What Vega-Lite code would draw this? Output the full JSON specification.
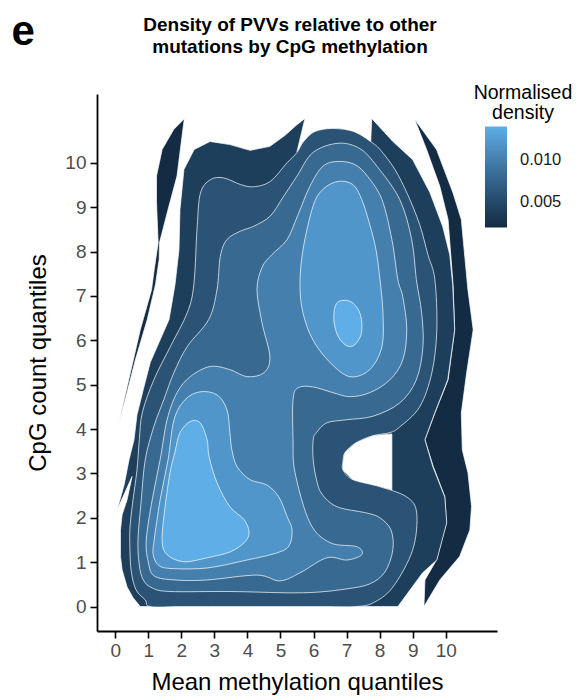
{
  "$schema": "https://vega.github.io/schema/vega-lite/v6.json",
  "width": 400,
  "height": 537,
  "autosize": {"type": "none"},
  "padding": {"left": 97, "top": 94, "right": 84, "bottom": 66},
  "title": {
    "text": ["Density of PVVs relative to other", "mutations by CpG methylation"],
    "fontSize": 19, "fontWeight": "bold", "font": "Liberation Sans", "color": "black",
    "anchor": "middle", "dx": -7, "lineHeight": 22, "offset": -46
  },
  "config": {
    "view": {"stroke": null},
    "axis": {
      "grid": false, "domainColor": "black", "domainWidth": 1.8, "tickColor": "black",
      "tickWidth": 1.6, "tickSize": 7, "labelColor": "#4d4d4d", "labelFontSize": 19,
      "labelFont": "Liberation Sans", "titleFont": "Liberation Sans", "titleFontSize": 24,
      "titleFontWeight": "normal", "titleColor": "black", "labelOverlap": false
    }
  },
  "layer": [
    {
      "data": {"values": [
        {"p":"S1","x":2.09,"y":10.99},{"p":"S1","x":1.77,"y":10.75},{"p":"S1","x":1.42,"y":10.30},{"p":"S1","x":1.25,"y":9.70},{"p":"S1","x":1.25,"y":9.11},{"p":"S1","x":1.30,"y":8.20},{"p":"S1","x":1.18,"y":7.59},{"p":"S1","x":1.10,"y":7.14},{"p":"S1","x":0.76,"y":6.24},{"p":"S1","x":0.46,"y":5.27},{"p":"S1","x":0.11,"y":4.14},{"p":"S1","x":0.30,"y":4.66},{"p":"S1","x":0.61,"y":5.56},{"p":"S1","x":0.97,"y":6.47},{"p":"S1","x":1.22,"y":7.26},{"p":"S1","x":1.33,"y":7.82},{"p":"S1","x":1.34,"y":8.20},{"p":"S1","x":1.60,"y":8.95},{"p":"S1","x":1.87,"y":9.70},{"p":"S1","x":1.99,"y":10.41},
        {"p":"S2","x":9.06,"y":10.98},{"p":"S2","x":9.42,"y":10.30},{"p":"S2","x":9.82,"y":9.47},{"p":"S2","x":10.07,"y":8.72},{"p":"S2","x":10.22,"y":7.26},{"p":"S2","x":10.27,"y":6.24},{"p":"S2","x":10.07,"y":5.11},{"p":"S2","x":9.67,"y":4.36},{"p":"S2","x":9.37,"y":3.76},{"p":"S2","x":9.62,"y":3.16},{"p":"S2","x":9.97,"y":2.48},{"p":"S2","x":10.02,"y":1.89},{"p":"S2","x":9.72,"y":1.05},{"p":"S2","x":9.37,"y":0.60},{"p":"S2","x":9.34,"y":0},{"p":"S2","x":9.82,"y":0.60},{"p":"S2","x":10.42,"y":1.13},{"p":"S2","x":10.73,"y":1.73},{"p":"S2","x":10.78,"y":2.26},{"p":"S2","x":10.67,"y":3.02},{"p":"S2","x":10.50,"y":3.53},{"p":"S2","x":10.47,"y":4.36},{"p":"S2","x":10.63,"y":5.26},{"p":"S2","x":10.83,"y":6.24},{"p":"S2","x":10.67,"y":7.14},{"p":"S2","x":10.47,"y":8.72},{"p":"S2","x":10.22,"y":9.32},{"p":"S2","x":9.72,"y":10.30},
        {"p":"A","x":0.76,"y":0},{"p":"A","x":6.80,"y":0},{"p":"A","x":7.19,"y":2.86},{"p":"A","x":6.89,"y":3.08},{"p":"A","x":6.89,"y":3.26},{"p":"A","x":6.95,"y":3.47},{"p":"A","x":7.28,"y":3.69},{"p":"A","x":7.79,"y":3.85},{"p":"A","x":8.37,"y":3.89},{"p":"A","x":8.37,"y":2.63},{"p":"A","x":8.01,"y":2.70},{"p":"A","x":7.58,"y":2.78},{"p":"A","x":7.19,"y":2.86},{"p":"A","x":6.80,"y":0},{"p":"A","x":8.55,"y":0},{"p":"A","x":9.30,"y":0.76},{"p":"A","x":9.73,"y":1.05},{"p":"A","x":10.03,"y":1.89},{"p":"A","x":9.97,"y":2.47},{"p":"A","x":9.61,"y":3.15},{"p":"A","x":9.37,"y":3.76},{"p":"A","x":9.67,"y":4.37},{"p":"A","x":10.06,"y":5.11},{"p":"A","x":10.27,"y":6.24},{"p":"A","x":10.21,"y":7.26},{"p":"A","x":10.12,"y":7.93},{"p":"A","x":9.91,"y":8.56},{"p":"A","x":9.52,"y":9.33},{"p":"A","x":9.00,"y":10.07},{"p":"A","x":8.40,"y":10.48},{"p":"A","x":7.76,"y":11.00},{"p":"A","x":7.73,"y":10.46},{"p":"A","x":7.40,"y":10.64},{"p":"A","x":7.10,"y":10.73},{"p":"A","x":6.71,"y":10.77},{"p":"A","x":6.34,"y":10.76},{"p":"A","x":5.98,"y":10.68},{"p":"A","x":5.68,"y":10.46},{"p":"A","x":5.50,"y":10.25},{"p":"A","x":5.74,"y":11.00},{"p":"A","x":5.47,"y":10.84},{"p":"A","x":5.14,"y":10.62},{"p":"A","x":4.68,"y":10.37},{"p":"A","x":4.08,"y":10.28},{"p":"A","x":3.47,"y":10.41},{"p":"A","x":2.87,"y":10.48},{"p":"A","x":2.39,"y":10.30},{"p":"A","x":2.08,"y":9.85},{"p":"A","x":1.96,"y":8.95},{"p":"A","x":1.93,"y":8.04},{"p":"A","x":1.81,"y":7.26},{"p":"A","x":1.63,"y":6.47},{"p":"A","x":1.36,"y":6.01},{"p":"A","x":1.06,"y":5.50},{"p":"A","x":0.85,"y":4.89},{"p":"A","x":0.66,"y":4.32},{"p":"A","x":0.57,"y":3.76},{"p":"A","x":0.42,"y":3.31},{"p":"A","x":0.27,"y":2.74},{"p":"A","x":0.06,"y":2.18},{"p":"A","x":0.51,"y":2.93},{"p":"A","x":0.36,"y":2.41},{"p":"A","x":0.21,"y":2.07},{"p":"A","x":0.16,"y":1.73},{"p":"A","x":0.16,"y":1.13},{"p":"A","x":0.21,"y":0.83},{"p":"A","x":0.36,"y":0.44},{"p":"A","x":0.54,"y":0.20},
        {"p":"B","x":1.06,"y":0},{"p":"B","x":0.91,"y":0.15},{"p":"B","x":0.63,"y":0.38},{"p":"B","x":0.48,"y":0.83},{"p":"B","x":0.44,"y":1.50},{"p":"B","x":0.46,"y":1.89},{"p":"B","x":0.54,"y":2.41},{"p":"B","x":0.66,"y":3.08},{"p":"B","x":0.73,"y":3.76},{"p":"B","x":0.82,"y":4.37},{"p":"B","x":1.17,"y":5.11},{"p":"B","x":1.67,"y":5.86},{"p":"B","x":2.18,"y":6.62},{"p":"B","x":2.38,"y":7.26},{"p":"B","x":2.48,"y":8.56},{"p":"B","x":2.58,"y":9.32},{"p":"B","x":2.88,"y":9.62},{"p":"B","x":3.28,"y":9.66},{"p":"B","x":3.79,"y":9.51},{"p":"B","x":4.19,"y":9.46},{"p":"B","x":4.69,"y":9.58},{"p":"B","x":5.20,"y":10.00},{"p":"B","x":5.50,"y":10.23},{"p":"B","x":5.68,"y":10.46},{"p":"B","x":5.98,"y":10.68},{"p":"B","x":6.34,"y":10.76},{"p":"B","x":6.71,"y":10.77},{"p":"B","x":7.10,"y":10.73},{"p":"B","x":7.40,"y":10.64},{"p":"B","x":7.76,"y":10.46},{"p":"B","x":8.01,"y":10.30},{"p":"B","x":8.46,"y":9.85},{"p":"B","x":8.85,"y":9.28},{"p":"B","x":9.21,"y":8.61},{"p":"B","x":9.46,"y":7.93},{"p":"B","x":9.67,"y":7.37},{"p":"B","x":9.73,"y":6.24},{"p":"B","x":9.58,"y":5.27},{"p":"B","x":9.21,"y":4.50},{"p":"B","x":8.61,"y":4.05},{"p":"B","x":8.31,"y":3.92},{"p":"B","x":7.79,"y":3.85},{"p":"B","x":7.28,"y":3.69},{"p":"B","x":6.95,"y":3.47},{"p":"B","x":6.89,"y":3.26},{"p":"B","x":6.89,"y":3.08},{"p":"B","x":7.19,"y":2.86},{"p":"B","x":8.01,"y":2.70},{"p":"B","x":8.82,"y":2.47},{"p":"B","x":9.12,"y":2.11},{"p":"B","x":9.00,"y":1.28},{"p":"B","x":8.40,"y":0.44},{"p":"B","x":7.79,"y":0.08},{"p":"B","x":7.25,"y":0},{"p":"B","x":6.40,"y":0},{"p":"B","x":5.30,"y":0},{"p":"B","x":4.20,"y":0},{"p":"B","x":3.10,"y":0},{"p":"B","x":2.00,"y":0},
        {"p":"C","x":0.69,"y":1.50},{"p":"C","x":0.73,"y":0.94},{"p":"C","x":0.85,"y":0.60},{"p":"C","x":1.12,"y":0.42},{"p":"C","x":1.66,"y":0.34},{"p":"C","x":3.47,"y":0.34},{"p":"C","x":5.29,"y":0.31},{"p":"C","x":6.19,"y":0.33},{"p":"C","x":7.01,"y":0.40},{"p":"C","x":7.70,"y":0.51},{"p":"C","x":8.16,"y":0.78},{"p":"C","x":8.40,"y":1.28},{"p":"C","x":8.34,"y":1.73},{"p":"C","x":8.01,"y":2.00},{"p":"C","x":7.60,"y":2.11},{"p":"C","x":6.71,"y":2.25},{"p":"C","x":6.25,"y":2.54},{"p":"C","x":6.09,"y":2.86},{"p":"C","x":5.99,"y":3.31},{"p":"C","x":5.99,"y":3.76},{"p":"C","x":6.09,"y":3.92},{"p":"C","x":6.40,"y":4.14},{"p":"C","x":7.00,"y":4.21},{"p":"C","x":7.80,"y":4.29},{"p":"C","x":8.61,"y":4.59},{"p":"C","x":9.11,"y":5.11},{"p":"C","x":9.31,"y":5.86},{"p":"C","x":9.27,"y":6.62},{"p":"C","x":9.11,"y":7.37},{"p":"C","x":8.97,"y":8.27},{"p":"C","x":8.61,"y":9.17},{"p":"C","x":7.92,"y":9.92},{"p":"C","x":7.40,"y":10.32},{"p":"C","x":6.74,"y":10.44},{"p":"C","x":5.98,"y":10.23},{"p":"C","x":5.50,"y":9.70},{"p":"C","x":5.10,"y":9.25},{"p":"C","x":4.69,"y":8.80},{"p":"C","x":4.19,"y":8.57},{"p":"C","x":3.79,"y":8.46},{"p":"C","x":3.38,"y":8.27},{"p":"C","x":3.18,"y":7.89},{"p":"C","x":3.08,"y":7.14},{"p":"C","x":2.83,"y":6.47},{"p":"C","x":2.18,"y":5.86},{"p":"C","x":1.77,"y":5.26},{"p":"C","x":1.47,"y":4.66},{"p":"C","x":1.17,"y":4.06},{"p":"C","x":0.91,"y":3.31},{"p":"C","x":0.79,"y":2.41},
        {"p":"D","x":0.94,"y":1.50},{"p":"D","x":1.00,"y":1.01},{"p":"D","x":1.18,"y":0.69},{"p":"D","x":1.81,"y":0.60},{"p":"D","x":2.78,"y":0.60},{"p":"D","x":4.29,"y":0.71},{"p":"D","x":4.98,"y":0.58},{"p":"D","x":5.59,"y":0.76},{"p":"D","x":6.40,"y":1.10},{"p":"D","x":7.01,"y":1.05},{"p":"D","x":7.46,"y":1.17},{"p":"D","x":7.31,"y":1.35},{"p":"D","x":6.50,"y":1.44},{"p":"D","x":5.89,"y":1.89},{"p":"D","x":5.44,"y":3.02},{"p":"D","x":5.38,"y":3.76},{"p":"D","x":5.38,"y":4.66},{"p":"D","x":5.53,"y":4.93},{"p":"D","x":5.98,"y":4.95},{"p":"D","x":6.59,"y":4.82},{"p":"D","x":7.10,"y":4.73},{"p":"D","x":7.70,"y":4.82},{"p":"D","x":8.31,"y":5.11},{"p":"D","x":8.70,"y":5.56},{"p":"D","x":8.82,"y":6.24},{"p":"D","x":8.70,"y":6.98},{"p":"D","x":8.55,"y":7.37},{"p":"D","x":8.37,"y":8.27},{"p":"D","x":8.07,"y":9.17},{"p":"D","x":7.64,"y":9.69},{"p":"D","x":7.25,"y":9.96},{"p":"D","x":6.74,"y":10.03},{"p":"D","x":6.28,"y":9.92},{"p":"D","x":5.89,"y":9.47},{"p":"D","x":5.53,"y":8.83},{"p":"D","x":5.20,"y":8.27},{"p":"D","x":4.74,"y":7.93},{"p":"D","x":4.44,"y":7.64},{"p":"D","x":4.29,"y":7.14},{"p":"D","x":4.44,"y":6.40},{"p":"D","x":4.68,"y":5.63},{"p":"D","x":4.50,"y":5.27},{"p":"D","x":3.99,"y":5.18},{"p":"D","x":3.47,"y":5.34},{"p":"D","x":2.87,"y":5.41},{"p":"D","x":2.27,"y":5.18},{"p":"D","x":1.87,"y":4.82},{"p":"D","x":1.57,"y":4.21},{"p":"D","x":1.36,"y":3.31},{"p":"D","x":1.12,"y":2.41},
        {"p":"E","x":1.18,"y":1.50},{"p":"E","x":1.15,"y":1.17},{"p":"E","x":1.30,"y":0.94},{"p":"E","x":1.66,"y":0.86},{"p":"E","x":2.78,"y":0.87},{"p":"E","x":3.99,"y":1.05},{"p":"E","x":4.89,"y":1.21},{"p":"E","x":5.26,"y":1.37},{"p":"E","x":5.35,"y":1.73},{"p":"E","x":5.20,"y":2.03},{"p":"E","x":4.95,"y":2.47},{"p":"E","x":4.59,"y":2.74},{"p":"E","x":4.08,"y":2.86},{"p":"E","x":3.69,"y":3.15},{"p":"E","x":3.53,"y":3.53},{"p":"E","x":3.47,"y":3.92},{"p":"E","x":3.38,"y":4.44},{"p":"E","x":3.08,"y":4.77},{"p":"E","x":2.57,"y":4.84},{"p":"E","x":2.11,"y":4.66},{"p":"E","x":1.78,"y":4.21},{"p":"E","x":1.60,"y":3.31},{"p":"E","x":1.36,"y":2.41},
        {"p":"F","x":5.59,"y":7.26},{"p":"F","x":5.68,"y":8.04},{"p":"F","x":5.98,"y":9.01},{"p":"F","x":6.28,"y":9.40},{"p":"F","x":6.74,"y":9.58},{"p":"F","x":7.19,"y":9.51},{"p":"F","x":7.46,"y":9.17},{"p":"F","x":7.70,"y":8.61},{"p":"F","x":7.89,"y":8.04},{"p":"F","x":8.01,"y":7.37},{"p":"F","x":8.10,"y":6.62},{"p":"F","x":8.07,"y":5.86},{"p":"F","x":7.70,"y":5.34},{"p":"F","x":7.10,"y":5.18},{"p":"F","x":6.50,"y":5.50},{"p":"F","x":5.98,"y":6.01},{"p":"F","x":5.68,"y":6.62},
        {"p":"G","x":2.27,"y":4.17},{"p":"G","x":2.57,"y":4.14},{"p":"G","x":2.78,"y":3.76},{"p":"G","x":2.84,"y":3.38},{"p":"G","x":3.08,"y":2.79},{"p":"G","x":3.47,"y":2.25},{"p":"G","x":3.90,"y":1.96},{"p":"G","x":4.05,"y":1.66},{"p":"G","x":3.90,"y":1.44},{"p":"G","x":3.47,"y":1.23},{"p":"G","x":2.78,"y":1.10},{"p":"G","x":2.08,"y":1.01},{"p":"G","x":1.57,"y":1.17},{"p":"G","x":1.42,"y":1.50},{"p":"G","x":1.51,"y":2.25},{"p":"G","x":1.66,"y":3.02},{"p":"G","x":1.81,"y":3.49},{"p":"G","x":1.96,"y":3.92},
        {"p":"H","x":6.89,"y":6.90},{"p":"H","x":7.13,"y":6.87},{"p":"H","x":7.34,"y":6.71},{"p":"H","x":7.45,"y":6.47},{"p":"H","x":7.45,"y":6.17},{"p":"H","x":7.33,"y":5.97},{"p":"H","x":7.14,"y":5.86},{"p":"H","x":6.92,"y":5.92},{"p":"H","x":6.72,"y":6.13},{"p":"H","x":6.62,"y":6.42},{"p":"H","x":6.63,"y":6.69},{"p":"H","x":6.72,"y":6.85}
      ]},
      "transform": [
        {"lookup": "p", "from": {"data": {"values": [
          {"p":"S1","lvl":1,"density":0.002},{"p":"S2","lvl":1,"density":0.002},
          {"p":"A","lvl":2,"density":0.004},{"p":"B","lvl":3,"density":0.006},
          {"p":"C","lvl":4,"density":0.008},{"p":"D","lvl":5,"density":0.010},
          {"p":"E","lvl":6,"density":0.012},{"p":"F","lvl":6,"density":0.012},
          {"p":"G","lvl":7,"density":0.014},{"p":"H","lvl":7,"density":0.014}
        ]}, "key": "p", "fields": ["lvl", "density"]}}
      ],
      "encoding": {
        "x": {"field": "x", "type": "quantitative",
          "scale": {"domain": [-0.55, 11.55], "nice": false, "zero": false},
          "axis": {"title": "Mean methylation quantiles", "values": [0,1,2,3,4,5,6,7,8,9,10], "tickCount": 11, "labelFlush": false, "labelOverlap": false, "labelPadding": 3, "titlePadding": 10}},
        "y": {"field": "y", "type": "quantitative",
          "scale": {"domain": [-0.55, 11.55], "nice": false, "zero": false},
          "axis": {"title": "CpG count quantiles", "values": [0,1,2,3,4,5,6,7,8,9,10], "tickCount": 11, "labelFlush": false, "labelOverlap": false, "labelPadding": 4, "titlePadding": 14}},
        "color": {"field": "density", "type": "quantitative",
          "scale": {"domain": [0.002, 0.014], "range": ["#132B43", "#5FAEE8"], "interpolate": "lab"},
          "legend": {"title": ["Normalised", "density"], "orient": "none", "legendX": 377, "legendY": -10,
            "direction": "vertical", "gradientLength": 101, "gradientThickness": 22, "gradientStrokeWidth": 0,
            "values": [0.005, 0.01], "format": ".3f", "titleFontSize": 19.5, "titleFontWeight": "normal",
            "titleColor": "black", "titleFont": "Liberation Sans", "titleAlign": "center", "titleAnchor": "middle",
            "titleLineHeight": 20, "titlePadding": 3, "labelFontSize": 16.5, "labelColor": "#1a1a1a",
            "labelFont": "Liberation Sans", "labelOffset": 13}},
        "detail": {"field": "p"},
        "order": {"value": null}
      },
      "layer": [
        {"transform": [{"filter": {"field": "lvl", "equal": 1}}], "mark": {"type": "line", "filled": true, "interpolate": "linear-closed", "stroke": "white", "strokeWidth": 0.7}},
        {"transform": [{"filter": {"field": "lvl", "equal": 2}}], "mark": {"type": "line", "filled": true, "interpolate": "linear-closed", "stroke": "white", "strokeWidth": 0.7}},
        {"transform": [{"filter": {"field": "lvl", "equal": 3}}], "mark": {"type": "line", "filled": true, "interpolate": "cardinal-closed", "stroke": "white", "strokeWidth": 0.7}},
        {"transform": [{"filter": {"field": "lvl", "equal": 4}}], "mark": {"type": "line", "filled": true, "interpolate": "cardinal-closed", "stroke": "white", "strokeWidth": 0.7}},
        {"transform": [{"filter": {"field": "lvl", "equal": 5}}], "mark": {"type": "line", "filled": true, "interpolate": "cardinal-closed", "stroke": "white", "strokeWidth": 0.7}},
        {"transform": [{"filter": {"field": "lvl", "equal": 6}}], "mark": {"type": "line", "filled": true, "interpolate": "cardinal-closed", "stroke": "white", "strokeWidth": 0.7}},
        {"transform": [{"filter": {"field": "lvl", "equal": 7}}], "mark": {"type": "line", "filled": true, "interpolate": "cardinal-closed", "stroke": "white", "strokeWidth": 0.7}}
      ]
    },
    {
      "data": {"values": [{"label": "e"}]},
      "mark": {"type": "text", "fontSize": 42, "fontWeight": "bold", "font": "Liberation Sans", "align": "center", "baseline": "alphabetic", "color": "black", "clip": false},
      "encoding": {
        "x": {"datum": -2.78, "type": "quantitative",
          "axis": {"title": "Mean methylation quantiles", "values": [0,1,2,3,4,5,6,7,8,9,10], "tickCount": 11, "labelFlush": false, "labelOverlap": false, "labelPadding": 3, "titlePadding": 10}},
        "y": {"datum": 12.65, "type": "quantitative",
          "axis": {"title": "CpG count quantiles", "values": [0,1,2,3,4,5,6,7,8,9,10], "tickCount": 11, "labelFlush": false, "labelOverlap": false, "labelPadding": 4, "titlePadding": 14}},
        "text": {"field": "label"}
      }
    }
  ]
}
